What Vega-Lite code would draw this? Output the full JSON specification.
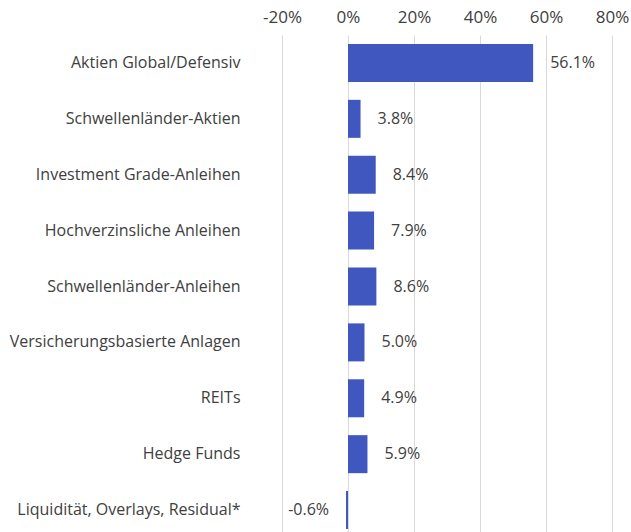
{
  "$schema": "https://vega.github.io/schema/vega-lite/v6.json",
  "autosize": "none",
  "padding": {"left": 282, "top": 35, "right": 19, "bottom": 0},
  "width": 330,
  "height": 503,
  "background": "white",
  "config": {
    "view": {"stroke": null},
    "locale": {"number": {"decimal": ".", "thousands": ",", "grouping": [3], "currency": ["$", ""], "minus": "-"}},
    "font": "Open Sans"
  },
  "data": {
    "values": [
      {"category": "Aktien Global/Defensiv", "value": 0.561},
      {"category": "Schwellenländer-Aktien", "value": 0.038},
      {"category": "Investment Grade-Anleihen", "value": 0.084},
      {"category": "Hochverzinsliche Anleihen", "value": 0.079},
      {"category": "Schwellenländer-Anleihen", "value": 0.086},
      {"category": "Versicherungsbasierte Anlagen", "value": 0.050},
      {"category": "REITs", "value": 0.049},
      {"category": "Hedge Funds", "value": 0.059},
      {"category": "Liquidität, Overlays, Residual*", "value": -0.006}
    ]
  },
  "encoding": {
    "y": {
      "field": "category", "type": "nominal", "sort": null,
      "scale": {"paddingInner": 0.32, "paddingOuter": 0.16},
      "axis": {"title": null, "domain": false, "ticks": false, "labelPadding": 42, "labelFontSize": 16, "labelLimit": 320, "labelColor": "#404040", "labelFont": "Open Sans"}
    },
    "x": {
      "field": "value", "type": "quantitative",
      "scale": {"domain": [-0.2, 0.8], "nice": false},
      "axis": {"orient": "top", "title": null, "format": ".0%", "values": [-0.2, 0, 0.2, 0.4, 0.6, 0.8], "domain": false, "ticks": false, "labelFlush": false, "labelPadding": 9, "labelFontSize": 17, "labelColor": "#404040", "gridColor": "#d9d9d9", "gridWidth": 1, "labelFont": "Open Sans"}
    }
  },
  "layer": [
    {"mark": {"type": "bar", "color": "#3F57BF"}},
    {
      "transform": [{"filter": "datum.value >= 0"}],
      "mark": {"type": "text", "align": "left", "dx": 17, "fontSize": 16, "color": "#404040"},
      "encoding": {"text": {"field": "value", "type": "quantitative", "format": ".1%"}}
    },
    {
      "transform": [{"filter": "datum.value < 0"}],
      "mark": {"type": "text", "align": "right", "dx": -17, "fontSize": 16, "color": "#404040"},
      "encoding": {"text": {"field": "value", "type": "quantitative", "format": ".1%"}}
    }
  ]
}
